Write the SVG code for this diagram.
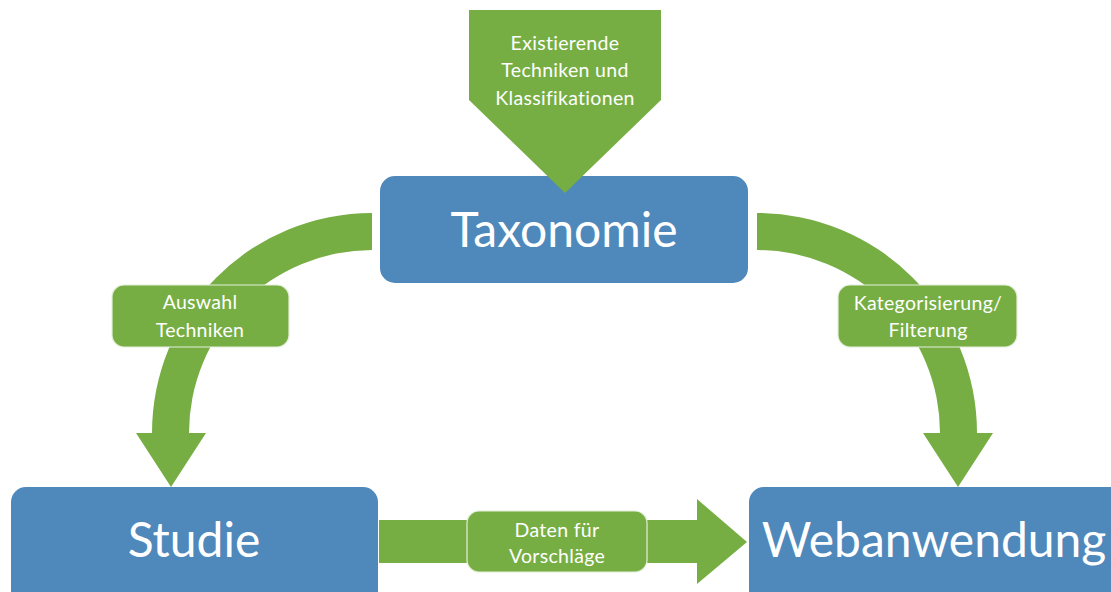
<svg xmlns="http://www.w3.org/2000/svg" width="1111" height="592" viewBox="0 0 1111 592">
  <style>
    .box { fill: #4F88BB; }
    .flow { fill: #76AE43; }
    .tag { fill: #76AE43; stroke: #E4EEDA; stroke-width: 1.2; }
    .big { font-family: Lato, "Liberation Sans", sans-serif; fill: #ffffff; text-anchor: middle; font-size: 48px; }
    .small { font-family: Lato, "Liberation Sans", sans-serif; fill: #ffffff; text-anchor: middle; font-size: 19.5px; letter-spacing: 0.3px; }
  </style>

  <!-- process boxes -->
  <g id="node-taxonomie">
    <rect class="box" x="380" y="176" width="368" height="107" rx="15"/>
    <text class="big" x="564" y="247">Taxonomie</text>
  </g>
  <g id="node-studie">
    <rect class="box" x="11" y="487" width="367" height="130" rx="15"/>
    <text class="big" x="194" y="557">Studie</text>
  </g>
  <g id="node-webanwendung">
    <rect class="box" x="749" y="487" width="390" height="130" rx="15"/>
    <text class="big" x="934" y="557">Webanwendung</text>
  </g>

  <!-- connectors -->
  <g id="connectors">
    <!-- input arrow into Taxonomie -->
    <g id="edge-input">
      <polygon class="flow" points="469,10 661,10 661,100 565,193 469,100"/>
      <text class="small" x="565" y="50">Existierende</text>
      <text class="small" x="565" y="77">Techniken und</text>
      <text class="small" x="565" y="105">Klassifikationen</text>
    </g>
    <!-- Taxonomie -> Studie -->
    <g id="edge-tax-studie">
      <path class="flow" d="M372,213 A220,220 0 0 0 152,433 L136,433 L171,487 L206,433 L189,433 A183,183 0 0 1 372,250 Z"/>
      <rect class="tag" x="112" y="285" width="177" height="62" rx="12"/>
      <text class="small" x="200" y="309">Auswahl</text>
      <text class="small" x="200" y="337">Techniken</text>
    </g>
    <!-- Taxonomie -> Webanwendung -->
    <g id="edge-tax-web">
      <path class="flow" d="M757,213 A220,220 0 0 1 977,433 L993,433 L958,487 L923,433 L940,433 A183,183 0 0 0 757,250 Z"/>
      <rect class="tag" x="838" y="285" width="179" height="62" rx="12"/>
      <text class="small" x="928" y="310">Kategorisierung/</text>
      <text class="small" x="928" y="337">Filterung</text>
    </g>
    <!-- Studie -> Webanwendung -->
    <g id="edge-studie-web">
      <polygon class="flow" points="379,520 697,520 697,499 747,542 697,584 697,563 379,563"/>
      <rect class="tag" x="467" y="511" width="180" height="61" rx="12"/>
      <text class="small" x="557" y="537">Daten für</text>
      <text class="small" x="557" y="563">Vorschläge</text>
    </g>
  </g>
</svg>
